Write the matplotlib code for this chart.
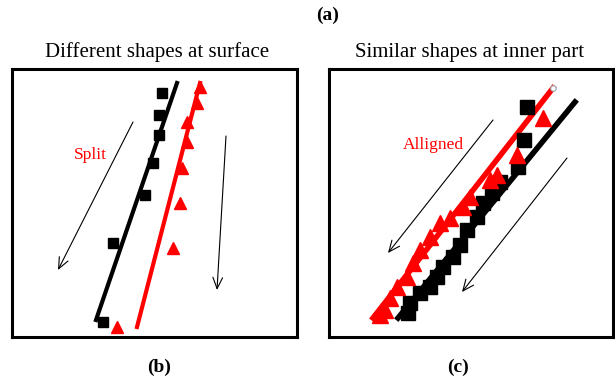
import matplotlib.pyplot as plt

plt.rcParams['font.family'] = ['Liberation Serif', 'DejaVu Serif']

# panel (b): different shapes at surface (pixel-like coordinates, y downwards)
b_sq_x = [162, 159, 159, 153, 145, 113, 103]
b_sq_y = [93, 115, 135, 163, 195, 243, 322]
b_tri_x = [200, 197, 187, 187, 182, 180, 173, 117]
b_tri_y = [87, 103, 122, 142, 168, 203, 248, 327]
b_black_line = ([96, 177], [320, 83])
b_red_line = ([137, 200], [327, 83])

# panel (c): similar shapes at inner part
c_sq_x = [527, 524, 518, 500, 492, 483, 477, 467, 460, 453, 443, 437, 430, 420, 410, 408]
c_sq_y = [107, 140, 167, 182, 193, 203, 217, 230, 245, 257, 267, 277, 287, 293, 303, 313]
c_tri_x = [543, 517, 497, 490, 470, 463, 450, 440, 430, 420, 413, 407, 397, 390, 385, 380]
c_tri_y = [118, 155, 175, 180, 197, 207, 218, 223, 237, 250, 263, 277, 287, 298, 310, 315]
c_black_line = ([398, 575], [318, 102])
c_red_line = ([373, 553], [318, 88])

fig = plt.figure(figsize=(6.15, 3.79), dpi=100)
W, H = 615, 379


def panel(x0, y0, x1, y1):
    ax = fig.add_axes([x0 / W, 1 - y1 / H, (x1 - x0) / W, (y1 - y0) / H])
    ax.set_xlim(x0, x1)
    ax.set_ylim(y1, y0)
    ax.set_xticks([])
    ax.set_yticks([])
    for s in ax.spines.values():
        s.set_linewidth(2.2)
    return ax


def arrow(ax, start, end):
    ax.annotate("", xy=end, xytext=start,
                arrowprops=dict(arrowstyle="->,head_length=0.8,head_width=0.35",
                                color="black", lw=0.8, shrinkA=0, shrinkB=0))


# (b)
ax = panel(12, 69, 297, 337)
ax.plot(*b_black_line, color="black", lw=3)
ax.plot(*b_red_line, color="red", lw=3)
ax.plot(b_sq_x, b_sq_y, "s", color="black", ms=7.5, ls="none")
ax.plot(b_tri_x, b_tri_y, "^", color="red", ms=8, ls="none")
arrow(ax, (133, 122), (58, 270))
arrow(ax, (226, 136), (217, 290))
ax.text(90, 155, "Split", color="red", fontsize=12.5, ha="center", va="center")

# (c)
ax = panel(329, 69, 613, 337)
ax.plot(*c_black_line, color="black", lw=4)
ax.plot(*c_red_line, color="red", lw=4)
ax.plot(c_sq_x, c_sq_y, "s", color="black", ms=10, ls="none")
ax.plot(c_tri_x, c_tri_y, "^", color="red", ms=11.5, ls="none")
ax.plot([553], [88], "o", mfc="white", mec="#9aa4ad", ms=4, mew=0.8)
arrow(ax, (493, 120), (388, 253))
arrow(ax, (567, 158), (462, 292))
ax.text(433, 145, "Alligned", color="red", fontsize=12.5, ha="center", va="center")

fig.text(328 / W, 1 - 15 / H, "(a)", fontsize=14, fontweight="bold", ha="center", va="center")
fig.text(157 / W, 1 - 52 / H, "Different shapes at surface", fontsize=15, ha="center", va="center")
fig.text(470 / W, 1 - 52 / H, "Similar shapes at inner part", fontsize=15, ha="center", va="center")
fig.text(159 / W, 1 - 367 / H, "(b)", fontsize=14, fontweight="bold", ha="center", va="center")
fig.text(458 / W, 1 - 367 / H, "(c)", fontsize=14, fontweight="bold", ha="center", va="center")

fig.savefig("out.png", dpi=100)
